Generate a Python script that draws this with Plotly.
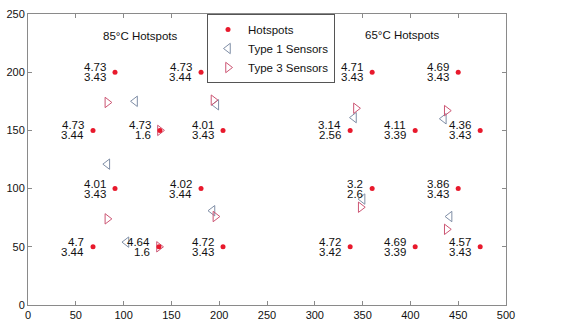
import plotly.graph_objects as go

# Hotspots (temperature labels: top line / bottom line)
hot_x = [91, 181, 68, 138, 204, 91, 181, 68, 137, 204,
         360, 450, 337, 405, 473, 360, 450, 337, 405, 473]
hot_y = [200, 200, 150, 150, 150, 100, 100, 50, 50, 50,
         200, 200, 150, 150, 150, 100, 100, 50, 50, 50]
hot_top = ["4.73", "4.73", "4.73", "4.73", "4.01", "4.01", "4.02", "4.7", "4.64", "4.72",
           "4.71", "4.69", "3.14", "4.11", "4.36", "3.2", "3.86", "4.72", "4.69", "4.57"]
hot_bot = ["3.43", "3.44", "3.44", "1.6", "3.43", "3.43", "3.44", "3.44", "1.6", "3.43",
           "3.43", "3.43", "2.56", "3.39", "3.43", "2.6", "3.43", "3.42", "3.39", "3.43"]

# Type 1 sensors
t1_x = [112, 83, 103, 197, 193, 341, 350, 435, 441]
t1_y = [175, 121, 54, 172, 81, 161, 91, 160, 76]

# Type 3 sensors
t3_x = [83, 83, 138, 137, 194, 196, 343, 348, 438, 438]
t3_y = [174, 74, 150, 50, 176, 76, 169, 84, 167, 65]

# Group titles
group_titles = ["85°C Hotspots", "65°C Hotspots"]
group_x = [118, 392]
group_y = [231, 232]

x_ticks = [0, 50, 100, 150, 200, 250, 300, 350, 400, 450, 500]
y_ticks = [0, 50, 100, 150, 200, 250]

FONT = "Liberation Sans, Arial, sans-serif"
C_HOT = "#e8192c"
C_T1 = "#7f8ea6"
C_T3 = "#cc5573"
C_AX = "#8a8a8a"

fig = go.Figure()

fig.add_trace(go.Scatter(
    x=t1_x, y=t1_y, mode="markers", name="Type 1 Sensors", legendrank=2,
    marker=dict(symbol="triangle-left-open", size=9, color=C_T1, line=dict(width=1, color=C_T1)),
))
fig.add_trace(go.Scatter(
    x=t3_x, y=t3_y, mode="markers", name="Type 3 Sensors", legendrank=3,
    marker=dict(symbol="triangle-right-open", size=9, color=C_T3, line=dict(width=1, color=C_T3)),
))
fig.add_trace(go.Scatter(
    x=hot_x, y=hot_y, mode="markers", name="Hotspots", legendrank=1,
    marker=dict(symbol="circle", size=5, color=C_HOT),
))

ann = []
for x, y, t, b in zip(hot_x, hot_y, hot_top, hot_bot):
    ann.append(dict(x=x, y=y, text=t, showarrow=False, xanchor="right", yanchor="middle",
                    xshift=-7, yshift=5, font=dict(family=FONT, size=11.5, color="#111111")))
    ann.append(dict(x=x, y=y, text=b, showarrow=False, xanchor="right", yanchor="middle",
                    xshift=-7, yshift=-5, font=dict(family=FONT, size=11.5, color="#111111")))
for t, x, y in zip(group_titles, group_x, group_y):
    ann.append(dict(x=x, y=y, text=t, showarrow=False, xanchor="center", yanchor="middle",
                    font=dict(family=FONT, size=11.5, color="#111111")))

axis_common = dict(
    showline=True, linecolor=C_AX, linewidth=1, mirror="ticks",
    ticks="inside", ticklen=4, tickcolor=C_AX, showgrid=False, zeroline=False,
    automargin=False,
    tickfont=dict(family=FONT, size=11, color="#111111"),
)

fig.update_layout(
    width=562, height=320,
    margin=dict(l=28, r=56, t=14, b=15, autoexpand=False),
    paper_bgcolor="white", plot_bgcolor="white",
    font=dict(family=FONT, size=11, color="#111111"),
    xaxis=dict(range=[0, 500], tickvals=x_ticks, **axis_common),
    yaxis=dict(range=[0, 250], tickvals=y_ticks, **axis_common),
    annotations=ann,
    showlegend=True,
    legend=dict(x=0.3745, y=1.0, xanchor="left", yanchor="top",
                bgcolor="white", bordercolor="#555555", borderwidth=1,
                font=dict(family=FONT, size=11.5, color="#111111"),
                tracegroupgap=0, itemwidth=30),
)

fig.write_html("out.html", config={"displayModeBar": False},
               post_script="document.body.style.margin='0';")
